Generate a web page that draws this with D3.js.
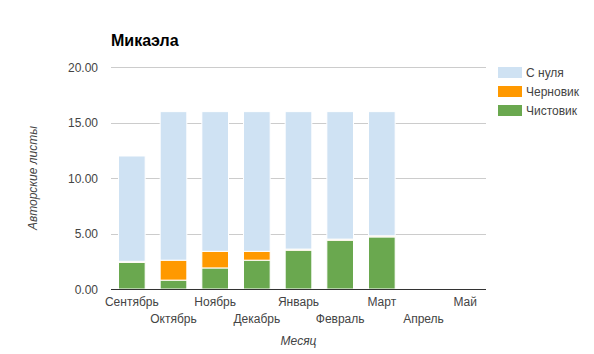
<!DOCTYPE html>
<html><head><meta charset="utf-8">
<script src="https://cdn.jsdelivr.net/npm/d3@7"></script>
<style>body{margin:0;background:#fff;}svg{display:block;font-family:"Liberation Sans",Arial,sans-serif;}</style>
</head><body>
<svg id="chart" width="594" height="354"></svg>
<script>
const months = ["Сентябрь","Октябрь","Ноябрь","Декабрь","Январь","Февраль","Март","Апрель","Май"];
const seriesNames = ["Чистовик","Черновик","С нуля"];
const clean = [2.4, 0.8, 1.9, 2.6, 3.5, 4.4, 4.7, 0, 0];
const draft = [0.1, 1.8, 1.5, 0.8, 0.1, 0.1, 0.1, 0, 0];
const scratch = [9.5, 13.4, 12.6, 12.6, 12.4, 11.5, 11.2, 0, 0];
const yTicks = [0, 5, 10, 15, 20];
const colors = {"Чистовик":"#6aa84f","Черновик":"#ff9900","С нуля":"#cfe2f3"};
const legendOrder = ["С нуля","Черновик","Чистовик"];

const svg = d3.select("#chart");
const x = d3.scaleBand().domain(months).range([111, 486]).paddingInner(0.36).paddingOuter(0.18);
const y = d3.scaleLinear().domain([0, 20]).range([289, 67.3]);

// gridlines
svg.append("g").selectAll("line").data(yTicks.filter(d => d > 0)).join("line")
  .attr("x1", 111).attr("x2", 486)
  .attr("y1", d => Math.round(y(d)) + 0.5).attr("y2", d => Math.round(y(d)) + 0.5)
  .attr("stroke", "#cccccc").attr("stroke-width", 1);

// y tick labels
svg.append("g").selectAll("text").data(yTicks).join("text")
  .attr("x", 98).attr("y", d => y(d) + 4.5)
  .attr("text-anchor", "end").attr("font-size", 12).attr("fill", "#444")
  .text(d => d3.format(".2f")(d));

// stacked bars
const rows = months.map((m, i) => ({month: m, "Чистовик": clean[i], "Черновик": draft[i], "С нуля": scratch[i]}));
const stack = d3.stack().keys(seriesNames)(rows);
svg.append("g").selectAll("g").data(stack).join("g")
  .attr("fill", d => colors[d.key])
  .selectAll("rect").data(d => d.filter(p => p[1] - p[0] > 0)).join("rect")
  .attr("x", d => x(d.data.month)).attr("width", x.bandwidth())
  .attr("y", d => y(d[1])).attr("height", d => y(d[0]) - y(d[1]))
  .attr("stroke", "#fff").attr("stroke-width", 1);

// baseline
svg.append("line").attr("x1", 111).attr("x2", 486).attr("y1", 289.5).attr("y2", 289.5)
  .attr("stroke", "#333").attr("stroke-width", 1.2);

// x labels (staggered)
svg.append("g").selectAll("text").data(months).join("text")
  .attr("x", d => x(d) + x.bandwidth() / 2)
  .attr("y", (d, i) => i % 2 === 0 ? 306 : 323)
  .attr("text-anchor", "middle").attr("font-size", 12).attr("fill", "#444")
  .text(d => d);

// axis titles
svg.append("text").attr("x", 298.5).attr("y", 344.5).attr("text-anchor", "middle")
  .attr("font-size", 12).attr("font-style", "italic").attr("fill", "#444").text("Месяц");
svg.append("text").attr("transform", "translate(37,178) rotate(-90)").attr("text-anchor", "middle")
  .attr("font-size", 12).attr("font-style", "italic").attr("fill", "#444").text("Авторские листы");

// title
svg.append("text").attr("x", 111).attr("y", 46).attr("font-size", 16).attr("font-weight", "bold")
  .attr("fill", "#000").text("Микаэла");

// legend
const lg = svg.append("g").selectAll("g").data(legendOrder).join("g")
  .attr("transform", (d, i) => `translate(498,${67 + i * 19})`);
lg.append("rect").attr("width", 24).attr("height", 11).attr("fill", d => colors[d]);
lg.append("text").attr("x", 28).attr("y", 10).attr("font-size", 12).attr("fill", "#444").text(d => d);
</script>
</body></html>
